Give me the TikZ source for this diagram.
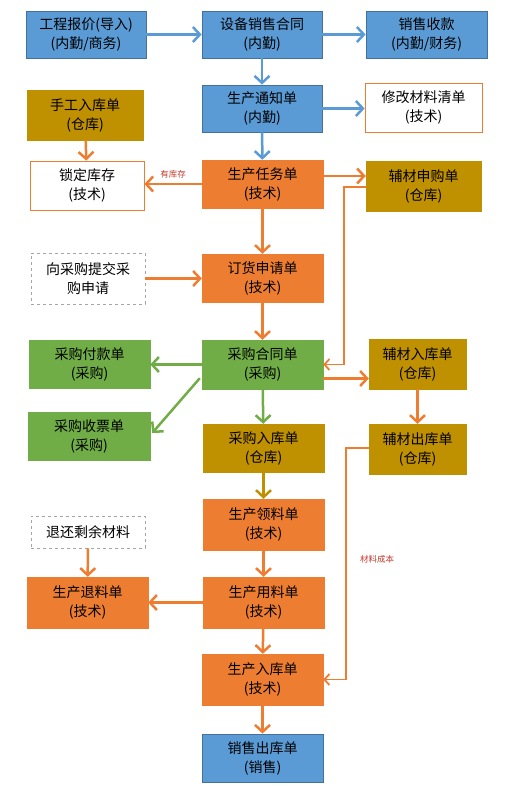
\documentclass[tikz,border=0pt]{standalone}
\usepackage{fontspec}
\setmainfont{Noto Sans CJK SC}
\usetikzlibrary{arrows.meta}
\definecolor{cblue}{HTML}{5B9BD5}
\definecolor{cblueb}{HTML}{41719C}
\definecolor{corange}{HTML}{ED7D31}
\definecolor{colive}{HTML}{BF9000}
\definecolor{cgreen}{HTML}{70AD47}
\definecolor{cred}{HTML}{C0392B}
\definecolor{cgray}{HTML}{A5A5A5}
\tikzset{
  box/.style={inner sep=0pt, align=center, font=\fontsize{14}{19}\selectfont, text=black},
  bluebox/.style={box, fill=cblue, draw=cblueb, line width=0.8pt},
  orangebox/.style={box, fill=corange, draw=corange},
  olivebox/.style={box, fill=colive, draw=colive},
  greenbox/.style={box, fill=cgreen, draw=cgreen},
  whitebox/.style={box, fill=white, draw=corange, line width=0.8pt},
  dashbox/.style={box, fill=white, draw=cgray, dashed, line width=0.8pt},
  arr/.style={line width=2.5pt, -{Straight Barb[length=7pt,width=15pt,line width=2.5pt]}},
  thinarr/.style={line width=1.8pt, -{Straight Barb[length=5pt,width=11pt,line width=1.8pt]}},
  barrow/.style={arr, draw=cblue},
  oarrow/.style={arr, draw=corange},
  garrow/.style={arr, draw=cgreen},
  yarrow/.style={arr, draw=colive},
  lbl/.style={font=\fontsize{8.5}{9}\selectfont, text=cred, inner sep=0pt},
}
\begin{document}
\begin{tikzpicture}[x=1pt,y=-1pt]
\useasboundingbox (0,0) rectangle (514,786);
% row 1
\node[bluebox, minimum width=120pt, minimum height=47pt] (n1) at (86,34.5) {工程报价(导入)\\(内勤/商务)};
\node[bluebox, minimum width=120pt, minimum height=47pt] (n2) at (262,34.5) {设备销售合同\\(内勤)};
\node[bluebox, minimum width=121pt, minimum height=47pt] (n3) at (426.5,34.5) {销售收款\\(内勤/财务)};
% row 2
\node[olivebox, minimum width=116pt, minimum height=50pt] (n4) at (85,115) {手工入库单\\(仓库)};
\node[bluebox, minimum width=120pt, minimum height=47pt] (n5) at (262,108.5) {生产通知单\\(内勤)};
\node[whitebox, minimum width=117pt, minimum height=49pt] (n6) at (423.5,107.5) {修改材料清单\\(技术)};
% row 3
\node[whitebox, minimum width=114pt, minimum height=49pt] (n7) at (87,185.5) {锁定库存\\(技术)};
\node[orangebox, minimum width=121pt, minimum height=48pt] (n8) at (262.5,184) {生产任务单\\(技术)};
\node[olivebox, minimum width=115pt, minimum height=50pt] (n9) at (423.5,186) {辅材申购单\\(仓库)};
% row 4
\node[dashbox, minimum width=114pt, minimum height=51pt] (n10) at (88,278.5) {向采购提交采\\购申请};
\node[orangebox, minimum width=121pt, minimum height=48pt] (n11) at (262.5,278) {订货申请单\\(技术)};
% row 5
\node[greenbox, minimum width=121pt, minimum height=48pt] (n12) at (89.5,364) {采购付款单\\(采购)};
\node[greenbox, minimum width=121pt, minimum height=49pt] (n13) at (262.5,364.5) {采购合同单\\(采购)};
\node[olivebox, minimum width=97pt, minimum height=50pt] (n14) at (417.5,364) {辅材入库单\\(仓库)};
% row 6
\node[greenbox, minimum width=122pt, minimum height=48pt] (n15) at (89,436) {采购收票单\\(采购)};
\node[olivebox, minimum width=121pt, minimum height=48pt] (n16) at (263.5,448) {采购入库单\\(仓库)};
\node[olivebox, minimum width=97pt, minimum height=50pt] (n17) at (417.5,449) {辅材出库单\\(仓库)};
% row 7
\node[dashbox, minimum width=114pt, minimum height=32pt] (n18) at (88,532) {退还剩余材料};
\node[orangebox, minimum width=121pt, minimum height=51pt] (n19) at (263.5,524.5) {生产领料单\\(技术)};
% row 8
\node[orangebox, minimum width=121pt, minimum height=51pt] (n20) at (87.5,602.5) {生产退料单\\(技术)};
\node[orangebox, minimum width=121pt, minimum height=51pt] (n21) at (263.5,602.5) {生产用料单\\(技术)};
% row 9
\node[orangebox, minimum width=121pt, minimum height=51pt] (n22) at (262.5,679.5) {生产入库单\\(技术)};
\node[bluebox, minimum width=121pt, minimum height=48pt] (n23) at (262.5,758) {销售出库单\\(销售)};

% connectors
\draw[barrow] (n1) -- (n2);
\draw[barrow] (n2) -- (n3);
\draw[barrow] (n2) -- (n5);
\draw[barrow] (n5.east) -- (n6.west |- n5.east);
\draw[barrow] (n5) -- (n8);
\draw[oarrow] (n4) -- (n7);
\draw[oarrow] (n8.west) -- (n7.east |- n8.west) node[lbl, midway, above=5pt] {有库存};
\coordinate (c8a) at ([yshift=8pt]n8.east);
\draw[oarrow] (c8a) -- (n9.west |- c8a);
\coordinate (c9a) at (344,187);
\draw[thinarr, draw=corange] (n9.west |- c9a) -- (c9a) -- (c9a |- n13.east) -- (n13.east);
\draw[oarrow] (n8) -- (n11);
\draw[oarrow] (n10) -- (n11.west |- n10.east);
\draw[oarrow] (n11) -- (n13);
\draw[garrow] (n13.west) -- (n12.east |- n13.west);
\coordinate (g1) at ([xshift=-2pt,yshift=11pt]n13.south west);
\coordinate (g2) at ([xshift=2pt,yshift=3pt]n15.east);
\draw[garrow] (g1) -- (g2);
\draw[garrow] (n13) -- (n16);
\coordinate (c13a) at ([yshift=-14pt]n13.east);
\draw[oarrow] (c13a) -- (n14.west |- c13a);
\draw[oarrow] (n14) -- (n17);
\coordinate (c17a) at (346,448);
\draw[thinarr, draw=corange] (n17.west |- c17a) -- (c17a) -- (c17a |- n22.east) -- (n22.east);
\node[lbl] (l2) at (377,559) {材料成本};
\draw[yarrow] (n16) -- (n19);
\draw[oarrow] (n19) -- (n21);
\draw[oarrow] (n21) -- (n20);
\draw[oarrow] (n18) -- (n20);
\draw[oarrow] (n21) -- (n22);
\draw[oarrow] (n22) -- (n23);
\end{tikzpicture}
\end{document}
